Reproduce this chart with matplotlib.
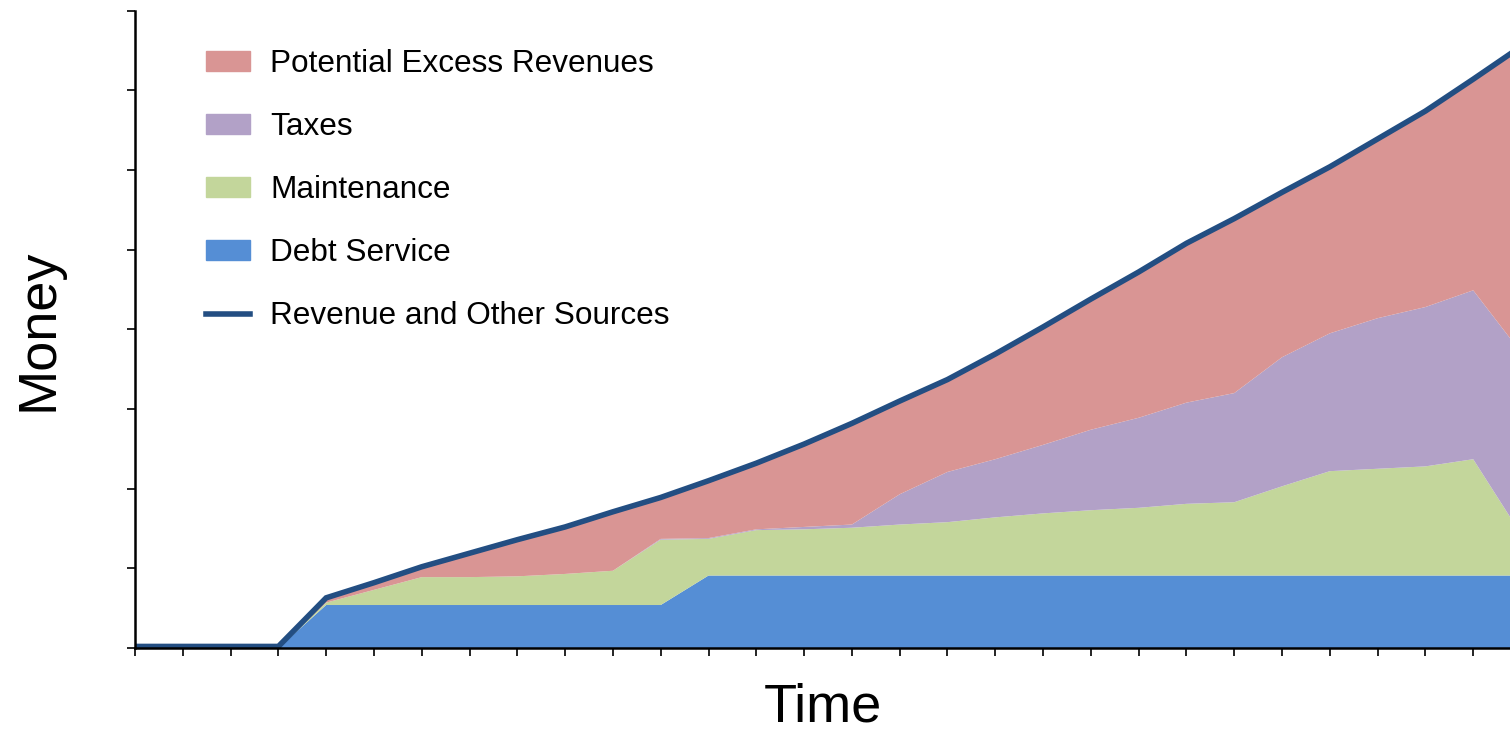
import matplotlib
matplotlib.use('Agg')
import matplotlib.pyplot as plt
from matplotlib.patches import Patch
from matplotlib.lines import Line2D

plt.rcParams['font.family'] = ['Liberation Sans', 'DejaVu Sans']

periods = list(range(30))
debt_service = [0, 0, 0, 0, 0.54, 0.54, 0.54, 0.54, 0.54, 0.54, 0.54, 0.54,
                0.91, 0.91, 0.91, 0.91, 0.91, 0.91, 0.91, 0.91, 0.91, 0.91,
                0.91, 0.91, 0.91, 0.91, 0.91, 0.91, 0.91, 0.91]
maintenance = [0, 0, 0, 0, 0.03, 0.19, 0.35, 0.35, 0.36, 0.39, 0.43, 0.82,
               0.46, 0.57, 0.58, 0.60, 0.64, 0.67, 0.73, 0.78, 0.82, 0.85,
               0.90, 0.92, 1.12, 1.31, 1.34, 1.37, 1.46, 0.52]
taxes = [0, 0, 0, 0, 0, 0, 0, 0, 0, 0, 0, 0.01,
         0.01, 0.01, 0.03, 0.04, 0.38, 0.63, 0.73, 0.86, 1.01, 1.13,
         1.27, 1.37, 1.62, 1.73, 1.89, 2.00, 2.12, 2.28]
excess = [0, 0, 0, 0, 0.06, 0.09, 0.13, 0.30, 0.46, 0.59, 0.74, 0.52,
          0.72, 0.83, 1.04, 1.27, 1.18, 1.16, 1.32, 1.48, 1.64, 1.83,
          2.00, 2.19, 2.07, 2.09, 2.25, 2.46, 2.65, 3.84]
revenue = [0.02, 0.02, 0.02, 0.02, 0.63, 0.82, 1.02, 1.19, 1.36, 1.52, 1.71, 1.89,
           2.10, 2.32, 2.56, 2.82, 3.10, 3.37, 3.69, 4.03, 4.38, 4.72,
           5.08, 5.39, 5.72, 6.04, 6.39, 6.74, 7.14, 7.55]

labels = ['Potential Excess Revenues', 'Taxes', 'Maintenance', 'Debt Service',
          'Revenue and Other Sources']
c_debt = '#558ED5'
c_maint = '#C3D69B'
c_tax = '#B2A1C7'
c_excess = '#D99594'
c_line = '#234E82'

fig = plt.figure(figsize=(15.1, 7.31), dpi=100)
ax = fig.add_axes([0.0894, 0.1135, 0.9106, 0.8719])

ax.stackplot(periods, debt_service, maintenance, taxes, excess,
             colors=[c_debt, c_maint, c_tax, c_excess], linewidth=0)
ax.plot(periods, revenue, color=c_line, linewidth=4, solid_joinstyle='miter', zorder=3)

ax.set_xlim(0, 28.77)
ax.set_ylim(0, 8)
ax.set_xticks(periods[:29])
ax.set_yticks(range(9))
ax.set_xticklabels([])
ax.set_yticklabels([])
ax.tick_params(direction='out', length=6, width=1.2, color='black')
for s in ['top', 'right']:
    ax.spines[s].set_visible(False)
for s in ['left', 'bottom']:
    ax.spines[s].set_linewidth(1.8)
    ax.spines[s].set_zorder(4)

ax.set_xlabel('Time', fontsize=39, labelpad=15)
ax.set_ylabel('Money', fontsize=39, labelpad=42)

handles = [Patch(color=c_excess), Patch(color=c_tax), Patch(color=c_maint),
           Patch(color=c_debt), Line2D([], [], color=c_line, linewidth=4)]
ax.legend(handles, labels, loc='upper left', bbox_to_anchor=(0.052, 0.94),
          frameon=False, fontsize=22.7, handlelength=1.39, handleheight=0.6,
          handletextpad=0.63, labelspacing=1.05, borderpad=0, borderaxespad=0)

fig.savefig('out.png', dpi=100)
